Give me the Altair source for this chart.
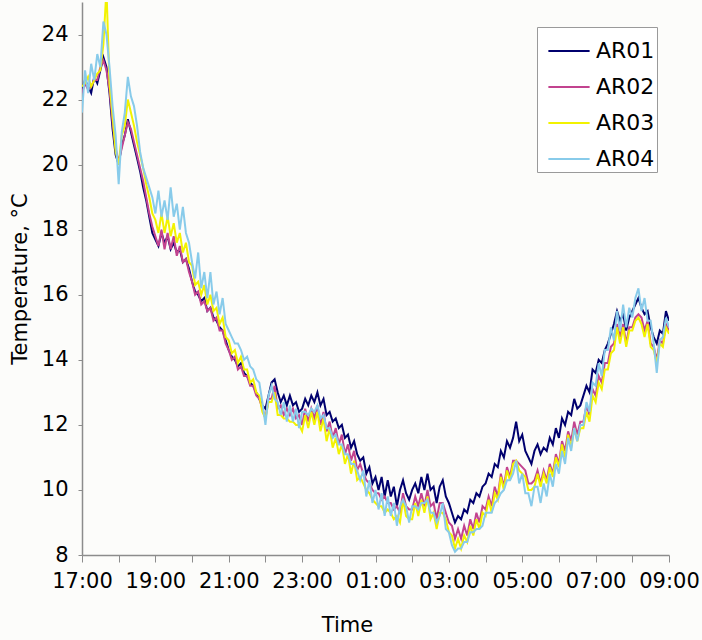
import altair as alt
import pandas as pd

# time grid: minutes after 17:00, every 5 minutes up to 09:00
minutes = list(range(0, 961, 5))

series_names = ["AR01", "AR02", "AR03", "AR04"]
series_colors = ["#00006e", "#c2438f", "#f2f200", "#88cbea"]

ar01 = [
    22.3, 22.6, 22.4, 22.2, 22.7, 22.5, 22.9, 23.3, 23.0, 22.2, 21.1, 20.3,
    20.0, 20.6, 20.9, 21.4, 21.0, 20.6, 20.2, 19.8, 19.3, 18.9, 18.4, 17.9,
    17.7, 17.5, 17.9, 17.6, 17.8, 17.4, 17.6, 17.3, 17.4, 17.0, 17.1, 16.8,
    16.4, 16.1, 16.0, 15.8, 15.9, 15.5, 15.6, 15.3, 15.2, 15.0, 14.9, 14.6,
    14.3, 14.1, 14.0, 13.8, 13.9, 13.6, 13.5, 13.3, 13.2, 13.0, 12.8, 12.6,
    12.5, 12.9, 13.3, 13.4, 13.0, 12.7, 12.9, 12.6, 12.9, 12.6, 12.7, 12.4,
    12.5, 12.8, 12.6, 12.9, 12.7, 13.0, 12.6, 12.8, 12.3, 12.4, 12.1, 12.2,
    11.9, 12.0, 11.6, 11.7, 11.3, 11.5, 11.1, 10.9, 11.0, 10.5, 10.7, 10.2,
    10.4, 10.0, 10.4, 9.8, 10.3, 9.8, 10.1, 9.5, 10.0, 10.3, 9.9, 9.7,
    10.0, 10.2, 9.9, 10.4, 10.0, 10.5, 10.0, 10.1, 9.6, 10.1, 10.3, 9.8,
    9.6, 9.3, 9.0, 9.2, 9.1, 9.4, 9.3, 9.7, 9.6, 9.9, 9.8, 10.1,
    10.2, 10.5, 10.4, 10.8, 10.7, 11.2, 11.0, 11.5, 11.3, 11.6, 12.1, 11.5,
    11.7, 11.2, 11.0, 10.8, 11.2, 11.4, 11.1, 11.3, 11.2, 11.6, 11.4, 11.9,
    11.6, 12.2, 12.0, 12.4, 12.3, 12.8, 12.5, 12.6, 12.9, 13.2, 13.0, 13.7,
    13.6, 14.0, 13.9, 14.3, 14.5, 14.8, 15.1, 15.5, 15.2, 15.4, 14.9, 15.3,
    15.5, 15.7, 15.9, 15.6, 15.4, 15.5, 15.0, 14.7, 14.5, 14.9, 14.8, 15.5, 15.2,
]

ar02 = [
    22.2, 22.5, 22.3, 22.4, 22.6, 22.6, 23.0, 23.2, 22.9, 22.3, 21.3, 20.5,
    20.1, 20.5, 20.9, 21.3, 21.1, 20.7, 20.3, 19.9, 19.5, 19.0, 18.5, 18.1,
    17.8, 17.5, 18.0, 17.4, 17.9, 17.4, 17.8, 17.2, 17.5, 17.0, 17.1, 16.7,
    16.4, 16.0, 16.1, 15.7, 15.8, 15.5, 15.6, 15.2, 15.3, 14.9, 14.9, 14.5,
    14.3, 14.0, 14.1, 13.7, 13.8, 13.5, 13.5, 13.2, 13.2, 12.9, 12.8, 12.5,
    12.2, 12.8, 12.8, 13.2, 12.5, 12.6, 12.3, 12.5, 12.3, 12.5, 12.2, 12.3,
    12.0, 12.5, 12.1, 12.5, 12.2, 12.6, 12.0, 12.4, 11.8, 12.1, 11.6, 11.9,
    11.4, 11.7, 11.1, 11.4, 10.9, 11.2, 10.6, 10.8, 10.5, 10.3, 10.2, 10.0,
    9.9, 9.9, 9.7, 9.8, 9.6, 9.6, 9.4, 9.5, 9.3, 9.9, 9.5, 9.4,
    9.4, 9.8, 9.5, 9.9, 9.5, 10.0, 9.5, 9.6, 9.1, 9.6, 9.6, 9.3,
    9.0, 8.9, 8.5, 8.8, 8.5, 8.9, 8.6, 9.1, 8.8, 9.3, 9.0, 9.5,
    9.4, 9.8, 9.5, 10.1, 9.8, 10.5, 10.1, 10.7, 10.4, 10.9, 10.9, 10.8,
    10.7, 10.6, 10.2, 10.2, 10.3, 10.6, 10.2, 10.6, 10.3, 10.8, 10.5, 11.1,
    10.8, 11.5, 11.2, 11.8, 11.5, 12.1, 11.7, 12.1, 12.1, 12.6, 12.3, 13.1,
    12.9, 13.5, 13.3, 13.9, 13.9, 14.4, 14.5, 15.1, 14.7, 15.1, 14.5, 15.0,
    15.0, 15.3, 15.4, 15.3, 14.9, 15.2, 14.5, 14.4, 14.0, 14.6, 14.5, 15.1, 14.9,
]

ar03 = [
    22.4, 22.5, 22.7, 22.4, 22.6, 22.8, 22.9, 23.7, 25.4, 22.5, 21.5, 20.4,
    20.0, 20.9, 21.2, 22.0, 21.6, 21.2, 20.7, 20.3, 19.9, 19.4, 19.0, 18.5,
    18.3, 17.9, 18.5, 17.9, 18.4, 17.8, 18.2, 17.6, 17.9, 17.3, 17.6, 17.0,
    16.9, 16.3, 16.4, 16.0, 16.3, 15.7, 16.0, 15.5, 15.6, 15.1, 15.3, 14.7,
    14.6, 14.2, 14.3, 13.9, 14.1, 13.7, 13.7, 13.3, 13.4, 13.0, 12.9, 12.4,
    12.2, 12.7, 12.7, 13.0, 12.3, 12.3, 12.2, 12.2, 12.1, 12.1, 12.0, 12.0,
    11.8, 12.3, 11.9, 12.4, 12.0, 12.4, 11.8, 12.2, 11.5, 11.9, 11.3, 11.6,
    11.1, 11.4, 10.8, 11.1, 10.5, 10.9, 10.3, 10.4, 10.2, 10.0, 9.9, 9.7,
    9.6, 9.5, 9.5, 9.3, 9.4, 9.3, 9.1, 9.2, 9.0, 9.7, 9.2, 9.1,
    9.1, 9.6, 9.2, 9.7, 9.3, 9.8, 9.1, 9.3, 8.8, 9.3, 9.3, 9.1,
    8.7, 8.6, 8.2, 8.5, 8.2, 8.6, 8.4, 8.9, 8.6, 9.1, 8.8, 9.3,
    9.2, 9.7, 9.3, 9.9, 9.7, 10.4, 10.0, 10.6, 10.3, 10.8, 10.9, 10.6,
    10.5, 10.4, 10.0, 10.0, 10.1, 10.5, 10.1, 10.5, 10.2, 10.7, 10.4, 11.0,
    10.7, 11.4, 11.0, 11.7, 11.3, 11.9, 11.5, 11.9, 11.9, 12.4, 12.1, 12.9,
    12.7, 13.3, 13.1, 13.7, 13.7, 14.2, 14.3, 15.0, 14.5, 15.0, 14.4, 14.9,
    14.9, 15.2, 15.3, 15.1, 14.7, 15.1, 14.4, 14.3, 13.9, 14.5, 14.4, 15.0, 14.8,
]

ar04 = [
    21.6, 22.9, 22.2, 23.1, 22.6, 23.4, 23.0, 24.4, 24.0, 23.0, 21.8, 20.9,
    19.4, 21.0, 21.6, 22.7, 22.1, 21.8, 21.2, 20.4, 19.9, 19.6, 19.3, 19.0,
    18.5, 19.2, 18.4, 18.9, 18.3, 19.3, 18.4, 18.8, 18.0, 18.7, 17.9, 17.6,
    17.0, 16.5, 17.3, 16.2, 16.7, 15.9, 16.7, 15.7, 16.1, 15.4, 15.9, 15.1,
    14.9, 14.7, 14.5, 14.5, 14.3, 14.0, 14.1, 13.8, 13.7, 13.4, 13.3, 12.7,
    12.0, 12.9, 13.2, 12.8, 12.7, 12.3, 12.7, 12.1, 12.6, 12.1, 12.5, 11.9,
    12.4, 12.4, 12.3, 12.5, 12.4, 12.6, 12.2, 12.3, 11.9, 11.9, 11.6, 11.7,
    11.4, 11.4, 11.1, 11.1, 10.8, 10.8, 10.6, 10.3, 10.6, 9.8, 10.3, 9.6,
    10.0, 9.4, 9.9, 9.2, 9.8, 9.2, 9.6, 8.9, 9.5, 9.7, 9.5, 9.0,
    9.5, 9.5, 9.4, 9.6, 9.6, 9.7, 9.3, 9.3, 9.0, 9.2, 9.6, 8.8,
    8.7, 8.3, 8.1, 8.2, 8.2, 8.4, 8.4, 8.7, 8.7, 8.8, 8.8, 8.9,
    9.3, 9.3, 9.3, 9.6, 9.7, 9.9, 10.0, 10.3, 10.3, 10.5, 10.9, 10.2,
    10.5, 9.9, 9.9, 9.5, 10.1, 10.1, 9.6, 10.2, 9.8, 10.5, 10.1, 10.8,
    10.5, 11.2, 10.8, 11.6, 11.2, 11.9, 11.5, 12.0, 12.0, 12.7, 12.4, 13.3,
    13.2, 13.9, 13.5, 14.3, 14.3, 15.0, 14.6, 15.5, 14.9, 15.7, 15.0, 15.6,
    15.3, 15.9, 16.2, 15.5, 15.9, 15.2, 15.2, 14.5, 13.6, 14.6, 14.7, 15.3, 15.0,
]

y_ticks = [8, 10, 12, 14, 16, 18, 20, 22, 24]
x_ticks = list(range(0, 961, 60))

rows = []
for idx, (name, vals) in enumerate(zip(series_names, [ar01, ar02, ar03, ar04])):
    for t, v in zip(minutes, vals):
        rows.append({"t": t, "temp": v, "series": name, "order": idx})
df = pd.DataFrame(rows)

FONT = "DejaVu Sans"

chart = alt.Chart(df).mark_line(strokeWidth=2, clip=True).encode(
    x=alt.X(
        "t:Q",
        scale=alt.Scale(domain=[0, 960], nice=False, zero=False),
        axis=alt.Axis(
            title="Time",
            values=x_ticks,
            labelExpr="datum.value % 120 == 0 ? format((17 + datum.value / 60) % 24, '02d') + ':00' : ''",
            grid=False,
            tickSize=7,
            labelPadding=8,
            labelFlush=False,
            labelOverlap=False,
            titleX=265,
            titleY=80,
            titleBaseline="bottom",
        ),
    ),
    y=alt.Y(
        "temp:Q",
        scale=alt.Scale(domain=[8, 25], nice=False, zero=False),
        axis=alt.Axis(
            title="Temperature, °C",
            values=y_ticks,
            grid=False,
            tickSize=4,
            labelPadding=10,
            titleX=-52,
            titleBaseline="bottom",
        ),
    ),
    color=alt.Color(
        "series:N",
        scale=alt.Scale(domain=series_names, range=series_colors),
        legend=alt.Legend(
            title=None,
            orient="none",
            legendX=455,
            legendY=25,
            symbolType="stroke",
            symbolSize=1700,
            symbolStrokeWidth=2,
            symbolOffset=8,
            labelFontSize=22,
            labelFont=FONT,
            labelColor="#000000",
            labelOffset=5,
            rowPadding=3,
            padding=2,
            strokeColor="#9a9a9a",
            fillColor="#ffffff",
        ),
    ),
    order=alt.Order("order:Q"),
).properties(
    width=587,
    height=553,
    autosize=alt.AutoSizeParams(type="none"),
    padding={"left": 82, "top": 2, "right": 33, "bottom": 85},
    background="#fcfcfa",
).configure_view(
    stroke=None,
).configure_axis(
    labelFont=FONT,
    titleFont=FONT,
    labelFontSize=21,
    titleFontSize=21,
    titleFontWeight="normal",
    labelColor="#000000",
    titleColor="#000000",
    domainColor="#8c8c8c",
    tickColor="#8c8c8c",
    domainWidth=1.5,
    tickWidth=1,
)

chart.save("out.html", embed_options={"renderer": "svg", "actions": False})
